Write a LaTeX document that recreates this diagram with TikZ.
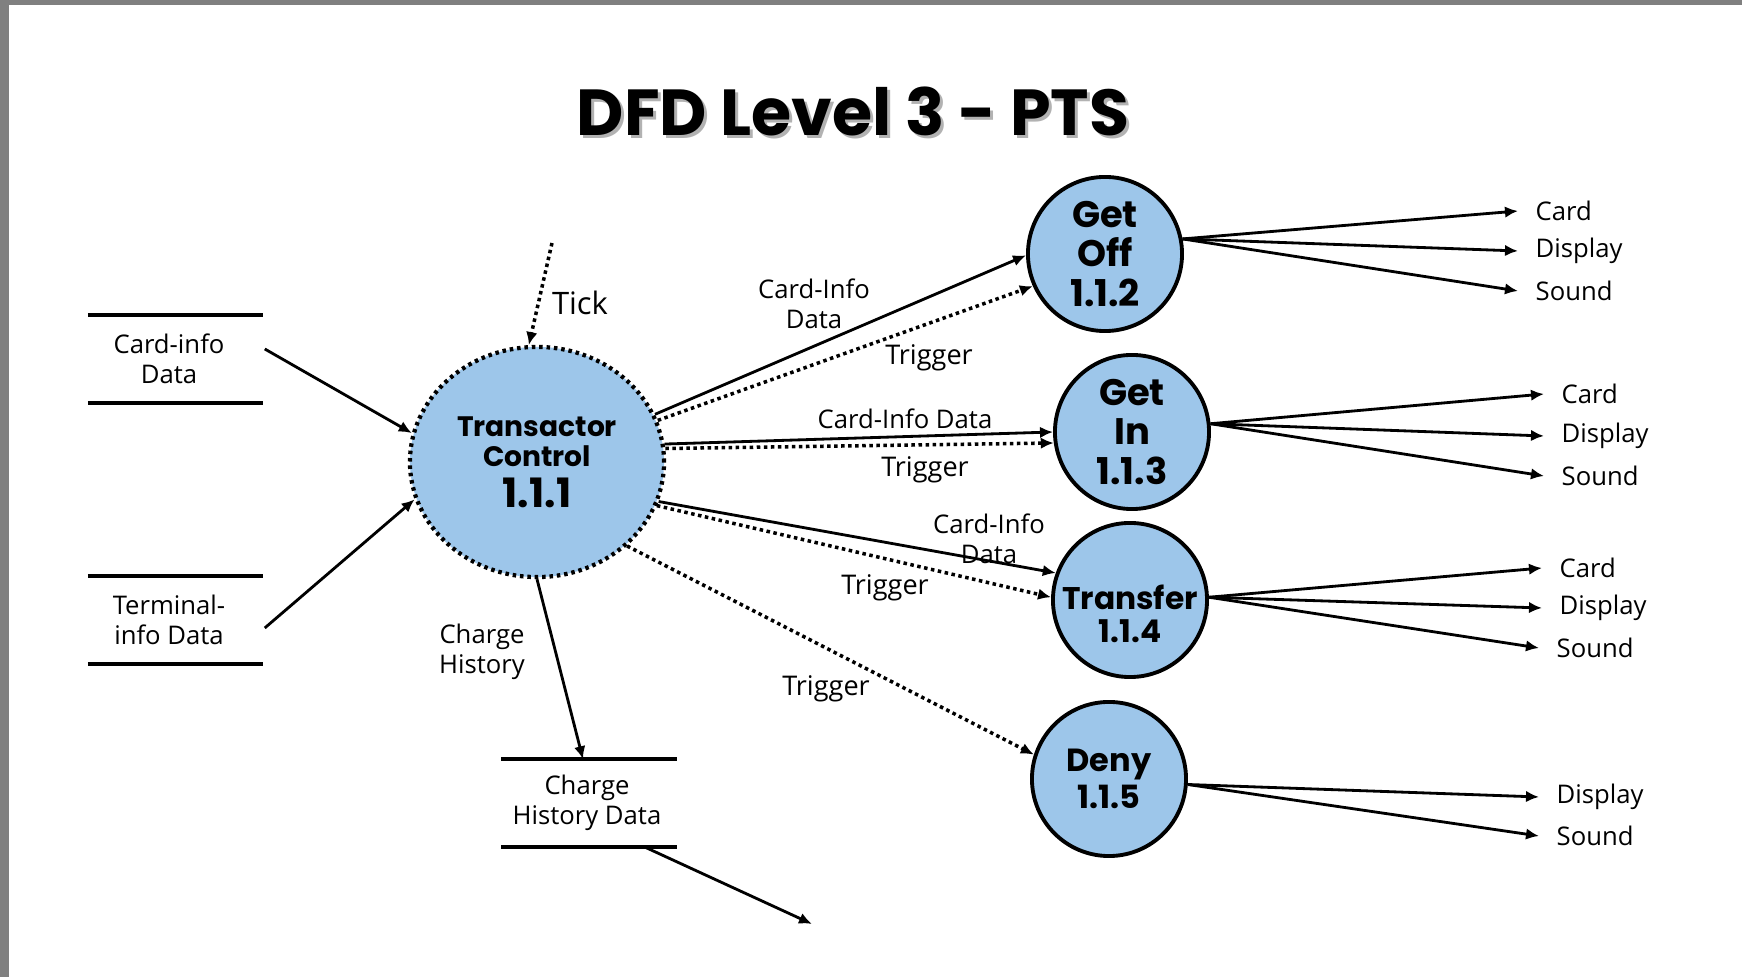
\documentclass[tikz,border=0pt]{standalone}
\usepackage{fontspec}
\setmainfont{Open Sans}
\newfontfamily\headfont{Poppins}
\usetikzlibrary{arrows.meta,shapes.geometric}
\definecolor{procblue}{RGB}{157,198,234}
\definecolor{framegray}{RGB}{128,128,128}
% text block lowered inside its node without changing the node size
\newcommand{\lowered}[2]{\raisebox{-#1}[0pt][0pt]{\begin{tabular}{@{}c@{}}#2\end{tabular}}}

\begin{document}
\begin{tikzpicture}[x=0.01cm,y=-0.01cm,
  titletext/.style={font=\headfont\bfseries\fontsize{18.5}{22}\selectfont, inner sep=0pt},
  proc/.style={circle, draw=black, line width=1.1pt, fill=procblue, inner sep=0pt,
    minimum size=1.54cm, align=center,
    font=\headfont\bfseries\fontsize{10.5}{11.2}\selectfont},
  ctrl/.style={ellipse, draw=black, line width=1.2pt, dash pattern=on 1pt off 1.1pt,
    fill=procblue, inner sep=0pt, minimum width=2.54cm, minimum height=2.30cm,
    align=center, font=\headfont\bfseries\fontsize{8}{8.6}\selectfont},
  lbl/.style={font=\fontsize{7.3}{8.5}\selectfont, align=center, inner sep=0pt},
  trlbl/.style={font=\fontsize{7.7}{9}\selectfont, inner sep=0pt},
  store/.style={lbl, minimum width=1.74cm, minimum height=0.86cm},
  storeline/.style={line width=1.1pt},
  outlbl/.style={lbl, anchor=west, inner xsep=0.17cm},
  flow/.style={-{Latex[length=1.3mm,width=1.15mm]}, line width=0.8pt},
  trig/.style={flow, line width=1pt, dash pattern=on 1pt off 1pt}
]
\useasboundingbox (0,0) rectangle (1742,977);
\fill[white] (0,0) rectangle (1742,977);
% frame edges
\fill[framegray] (0,0) rectangle (1742,5);
\fill[framegray] (0,0) rectangle (9,977);

% heading with a soft drop shadow
\node[titletext, text=black!30] at (856,114) {DFD Level 3 - PTS};
\node[titletext] (title) at (853,111) {DFD Level 3 - PTS};

% processes
\node[ctrl] (tc) at (537,462) {Transactor\\Control\\[3pt]{\fontsize{11.5}{12}\selectfont 1.1.1}};
\node[proc] (go) at (1105,254) {Get\\Off\\1.1.2};
\node[proc] (gi) at (1132,432) {Get\\In\\1.1.3};
\node[proc, font=\headfont\bfseries\fontsize{8.9}{9.4}\selectfont] (tr) at (1130,600)
  {\lowered{0.265cm}{Transfer\\1.1.4}};
\node[proc, font=\headfont\bfseries\fontsize{9.1}{10.6}\selectfont] (dn) at (1109,779) {Deny\\1.1.5};

% data stores (text sits slightly left of the bar centre on the left-hand stores)
\node[store] (cis) at (169,359) {Card-info\\Data};
\node[store] (tis) at (169,620) {Terminal-\\info Data};
\node[store] (chd) at (587,803) {Charge\\History Data};
\foreach \s/\dx in {cis/0.065cm,tis/0.065cm,chd/0.02cm} {
  \draw[storeline] ([xshift=\dx]\s.north west) -- ([xshift=\dx]\s.north east);
  \draw[storeline] ([xshift=\dx]\s.south west) -- ([xshift=\dx]\s.south east);
}

% flow labels
\node[font=\fontsize{8.8}{10}\selectfont, inner sep=0pt] (ticklbl) at (580,303) {Tick};
\node[lbl] (chlbl) at (482,652) {Charge\\History};
\node[lbl] (cid1) at (814,304) {Card-Info\\Data};
\node[trlbl] (trg1) at (929,358) {Trigger};
\node[lbl] (cid2) at (905,419) {Card-Info Data};
\node[trlbl] (trg2) at (925,470) {Trigger};
\node[lbl] (cid3) at (989,539) {Card-Info\\Data};
\node[trlbl] (trg3) at (885,588) {Trigger};
\node[trlbl] (trg4) at (826,689) {Trigger};

% inputs to the transactor
\coordinate (tickin) at (552,243);
\coordinate (chdout) at (812,924);
\draw[flow] ([xshift=0.08cm,yshift=0.1cm]cis.east) -- (tc.167);
\draw[flow] ([xshift=0.08cm,yshift=-0.08cm]tis.east) -- (tc.197);
\draw[trig] (tickin) -- (tc.94);
\draw[flow] (tc.270) -- ([xshift=-0.04cm]chd.north);
\draw[flow] ([xshift=0.57cm]chd.south) -- (chdout);

% transactor to the processes
\draw[flow] (tc.22) -- (go.181);
\draw[trig] (tc.19) -- (go.204);
\draw[flow] (tc.8) -- (gi.180);
\draw[trig] (tc.6) -- (gi.188);
\draw[flow] (tc.342) -- (tr.160);
\draw[trig] (tc.340) -- (tr.178);
\draw[trig] (tc.317) -- (dn.162);

% outputs of each process
\foreach \src/\ang/\nm/\txt/\x/\y in {
  go/11/goc/Card/1518/211, go/11/god/Display/1518/251, go/11/gos/Sound/1518/291,
  gi/6/gic/Card/1544/394, gi/6/gid/Display/1544/436, gi/6/gis/Sound/1544/476,
  tr/2/trc/Card/1542/568, tr/2/trd/Display/1542/608, tr/2/trs/Sound/1539/648,
  dn/356/dnd/Display/1539/797, dn/356/dns/Sound/1539/836} {
  \node[outlbl] (\nm) at (\x,\y) {\txt};
  \draw[flow] (\src.\ang) -- (\nm.west);
}
\end{tikzpicture}
\end{document}
